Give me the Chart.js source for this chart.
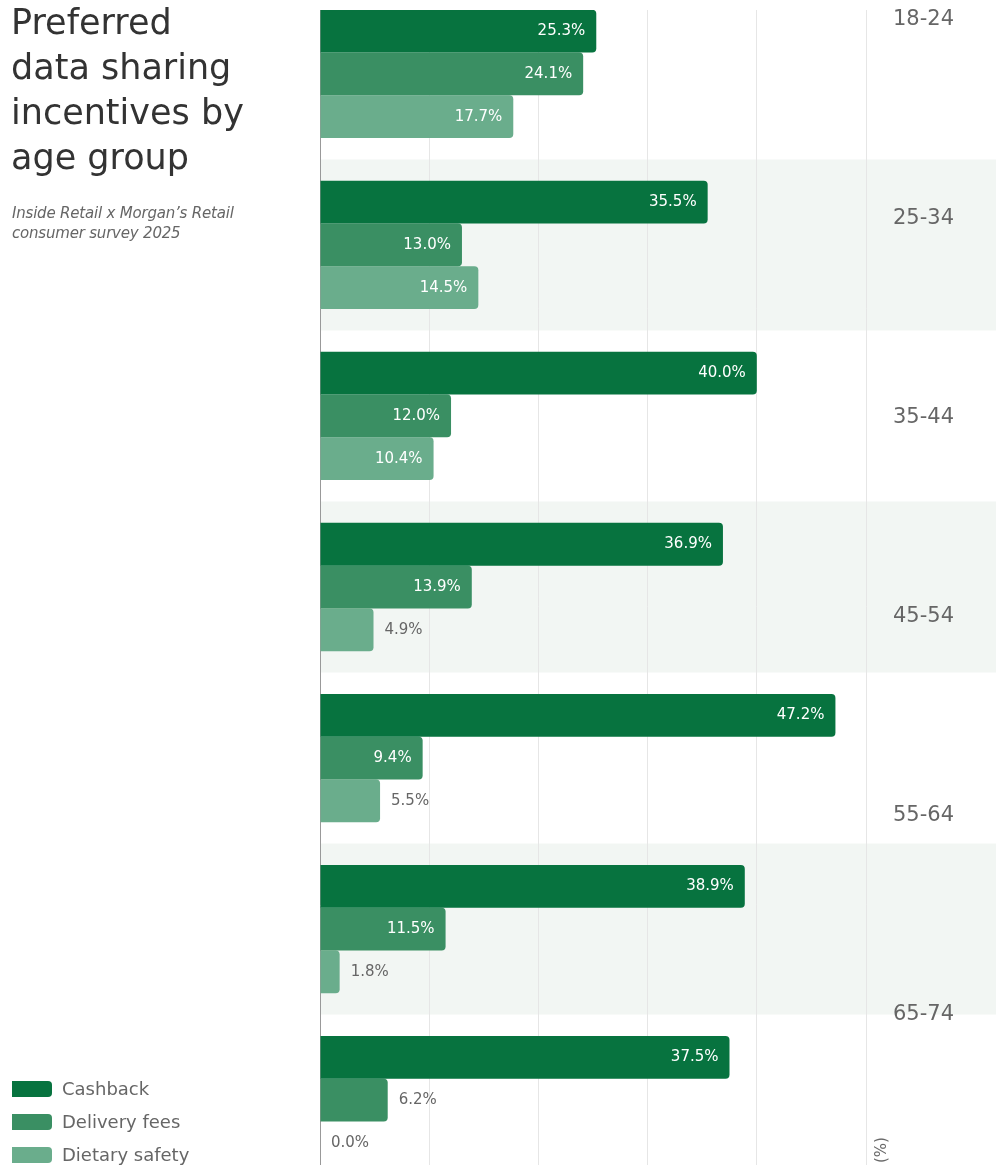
<!DOCTYPE html>
<html>
<head>
<meta charset="utf-8">
<title>Preferred data sharing incentives by age group</title>
<script src="https://cdn.jsdelivr.net/npm/chart.js@4.4.1/dist/chart.umd.min.js"></script>
<style>
  html, body { margin: 0; padding: 0; background: #fff; }
  body { width: 996px; height: 1165px; position: relative; overflow: hidden; font-family: "DejaVu Sans", sans-serif; }
  #wrap { position: absolute; left: 0; top: 0; width: 996px; height: 1203px; }
  #title { position: absolute; left: 11px; top: 0; margin: 0; font-size: 35px; line-height: 45px; font-weight: normal; color: #333; }
  #subtitle { position: absolute; left: 12px; top: 203px; margin: 0; font-size: 15px; line-height: 20px; font-style: italic; color: #666; letter-spacing: -0.2px; }
  #legend { position: absolute; left: 12px; top: 1072px; }
  .item { display: flex; align-items: center; height: 33px; font-size: 18px; color: #666; }
  .swatch { width: 40px; height: 16px; border-radius: 0 4px 4px 0; margin-right: 10px; }
  #unit { position: absolute; left: 881px; top: 1150px; font-size: 15px; color: #666; transform: translate(-50%, -50%) rotate(-90deg); white-space: nowrap; }
</style>
</head>
<body>
<div id="wrap"><canvas id="chart"></canvas></div>
<h1 id="title">Preferred<br>data sharing<br>incentives by<br>age group</h1>
<p id="subtitle">Inside Retail x Morgan’s Retail<br>consumer survey 2025</p>
<div id="legend"></div>
<span id="unit">(%)</span>
<script>
// survey results, % of respondents per age group
var ageGroups = ['18-24', '25-34', '35-44', '45-54', '55-64', '65-74', '75+'];
var seriesNames = ['Cashback', 'Delivery fees', 'Dietary safety'];
var seriesColors = ['#07733f', '#3a8f63', '#6aad8c'];
var cashback = [25.3, 35.5, 40.0, 36.9, 47.2, 38.9, 37.5];
var deliveryFees = [24.1, 13.0, 12.0, 13.9, 9.4, 11.5, 6.2];
var dietarySafety = [17.7, 14.5, 10.4, 4.9, 5.5, 1.8, 0.0];
var xMax = 50;
var insideMin = 8; // smaller bars get their label outside

var fontName = '"DejaVu Sans", sans-serif';

// y is a numeric index axis so the groups can sit flush with the top
var series = [cashback, deliveryFees, dietarySafety];
var datasets = series.map(function (values, s) {
    return {
        label: seriesNames[s],
        backgroundColor: seriesColors[s],
        data: values.map(function (v, i) { return {x: v, y: i}; }),
        categoryPercentage: 0.75,
        barPercentage: 1,
        borderRadius: 4,
        borderSkipped: 'start'
    };
});

// light stripe behind every other age group
var bandShade = {
    id: 'bandShade',
    beforeDraw: function (chart) {
        var ctx = chart.ctx, area = chart.chartArea, y = chart.scales.y;
        ctx.save();
        ctx.fillStyle = '#f2f6f3';
        for (var i = 1; i < ageGroups.length; i += 2) {
            var a = y.getPixelForValue(i - 0.5);
            var b = y.getPixelForValue(i + 0.5);
            ctx.fillRect(area.left, Math.min(a, b), chart.width - area.left, Math.abs(b - a));
        }
        ctx.restore();
    }
};

// value labels at the end of each bar
var barValues = {
    id: 'barValues',
    afterDatasetsDraw: function (chart) {
        var ctx = chart.ctx;
        ctx.save();
        ctx.font = '15px ' + fontName;
        ctx.textBaseline = 'middle';
        chart.data.datasets.forEach(function (ds, d) {
            chart.getDatasetMeta(d).data.forEach(function (bar, i) {
                var v = ds.data[i].x;
                var text = v.toFixed(1) + '%';
                if (v >= insideMin) {
                    ctx.fillStyle = '#fff';
                    ctx.textAlign = 'right';
                    ctx.fillText(text, bar.x - 11, bar.y);
                } else {
                    ctx.fillStyle = '#666';
                    ctx.textAlign = 'left';
                    ctx.fillText(text, bar.x + 11, bar.y);
                }
            });
        });
        ctx.restore();
    }
};

var ctx = document.getElementById('chart').getContext('2d');
var chart = new Chart(ctx, {
    type: 'bar',
    data: {datasets: datasets},
    options: {
        indexAxis: 'y',
        responsive: true,
        maintainAspectRatio: false,
        animation: false,
        events: [],
        layout: {padding: {top: 10, left: 320, right: 0, bottom: 0}},
        plugins: {
            legend: {display: false},
            tooltip: {enabled: false}
        },
        scales: {
            x: {
                min: 0,
                max: xMax,
                ticks: {stepSize: 10, display: false},
                grid: {color: '#e6e6e6', drawTicks: false},
                border: {display: false}
            },
            y: {
                type: 'linear',
                reverse: true,
                offset: false,
                min: -0.374,
                max: 6.602,
                afterBuildTicks: function (scale) {
                    scale.ticks = ageGroups.map(function (g, i) { return {value: i}; });
                },
                ticks: {display: false},
                grid: {display: false, drawTicks: false},
                border: {display: true, color: '#999', width: 1}
            },
            y2: {
                type: 'category',
                position: 'right',
                labels: ageGroups,
                offset: false,
                afterFit: function (scale) {
                    scale.width = 130;
                    scale.paddingTop = 0;
                    scale.paddingBottom = 0;
                },
                ticks: {
                    autoSkip: false,
                    padding: 27,
                    labelOffset: 10,
                    color: '#666',
                    font: {family: fontName, size: 21}
                },
                grid: {display: false, drawTicks: false},
                border: {display: false}
            }
        }
    },
    plugins: [bandShade, barValues]
});

// legend built from the same series
var legend = document.getElementById('legend');
seriesNames.forEach(function (name, s) {
    var row = document.createElement('div');
    row.className = 'item';
    var sw = document.createElement('span');
    sw.className = 'swatch';
    sw.style.background = seriesColors[s];
    row.appendChild(sw);
    row.appendChild(document.createTextNode(name));
    legend.appendChild(row);
});
</script>
</body>
</html>
